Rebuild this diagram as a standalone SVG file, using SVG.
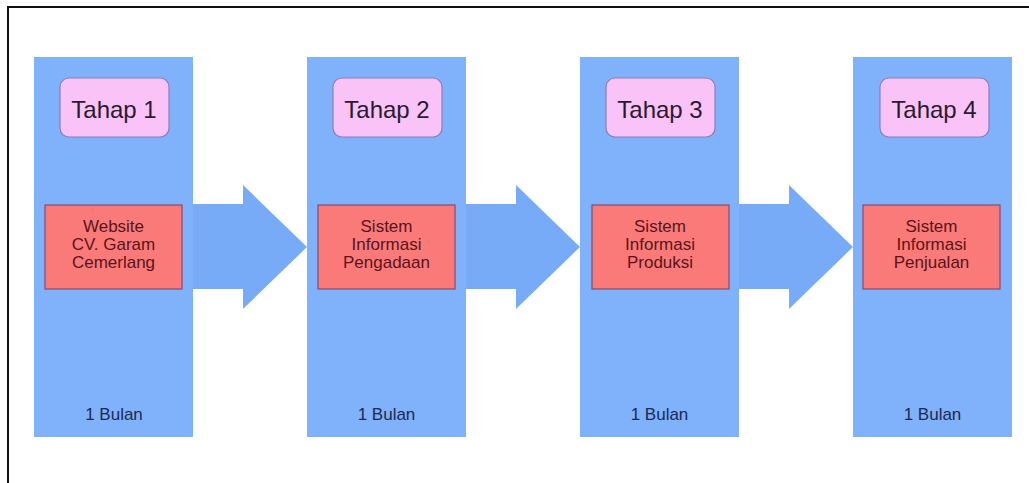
<svg xmlns="http://www.w3.org/2000/svg" width="1029" height="483" viewBox="0 0 1029 483">
<style>
.col{fill:#80b1fb}
.arrow{fill:#78abf7}
.tahap{fill:#f9c3f8;stroke:#8c7fb8;stroke-width:1.2}
.red{fill:#fa7a7a;stroke:#8a4a6a;stroke-width:1.2}
.tt{font-family:"Liberation Sans",Arial,sans-serif;font-size:24px;fill:#2a1a30;text-anchor:middle}
.rt{font-family:"Liberation Sans",Arial,sans-serif;font-size:17px;fill:#5a1418;text-anchor:middle}
.bt{font-family:"Liberation Sans",Arial,sans-serif;font-size:17px;fill:#1a2a55;text-anchor:middle}
.frame{fill:none;stroke:#111;stroke-width:2}
</style>
<rect width="1029" height="483" fill="#ffffff"/>
<path class="frame" d="M8,490 L8,7 L1035,7"/>
<g id="connectors">
<polygon class="arrow" points="190,204 243,204 243,185 307,247 243,309 243,289 190,289"/>
<polygon class="arrow" points="463,204 516,204 516,185 580,247 516,309 516,289 463,289"/>
<polygon class="arrow" points="736,204 789,204 789,185 853,247 789,309 789,289 736,289"/>
</g>
<g id="stage1">
<rect class="col" x="34" y="57" width="159" height="380"/>
<rect class="tahap" x="60" y="78" width="109" height="59" rx="9"/>
<text class="tt" x="114" y="118">Tahap 1</text>
<rect class="red" x="45" y="205" width="137" height="84"/>
<text class="rt" x="113.5" y="232">Website</text>
<text class="rt" x="113.5" y="250">CV. Garam</text>
<text class="rt" x="113.5" y="268">Cemerlang</text>
<text class="bt" x="114" y="420">1 Bulan</text>
</g>
<g id="stage2">
<rect class="col" x="307" y="57" width="159" height="380"/>
<rect class="tahap" x="333" y="78" width="109" height="59" rx="9"/>
<text class="tt" x="387" y="118">Tahap 2</text>
<rect class="red" x="318" y="205" width="137" height="84"/>
<text class="rt" x="386.5" y="232">Sistem</text>
<text class="rt" x="386.5" y="250">Informasi</text>
<text class="rt" x="386.5" y="268">Pengadaan</text>
<text class="bt" x="386.5" y="420">1 Bulan</text>
</g>
<g id="stage3">
<rect class="col" x="580" y="57" width="159" height="380"/>
<rect class="tahap" x="606" y="78" width="109" height="59" rx="9"/>
<text class="tt" x="660" y="118">Tahap 3</text>
<rect class="red" x="592" y="205" width="137" height="84"/>
<text class="rt" x="660" y="232">Sistem</text>
<text class="rt" x="660" y="250">Informasi</text>
<text class="rt" x="660" y="268">Produksi</text>
<text class="bt" x="659.5" y="420">1 Bulan</text>
</g>
<g id="stage4">
<rect class="col" x="853" y="57" width="159" height="380"/>
<rect class="tahap" x="880" y="78" width="109" height="59" rx="9"/>
<text class="tt" x="934" y="118">Tahap 4</text>
<rect class="red" x="863" y="205" width="137" height="84"/>
<text class="rt" x="931.5" y="232">Sistem</text>
<text class="rt" x="931.5" y="250">Informasi</text>
<text class="rt" x="931.5" y="268">Penjualan</text>
<text class="bt" x="932.5" y="420">1 Bulan</text>
</g>
</svg>
